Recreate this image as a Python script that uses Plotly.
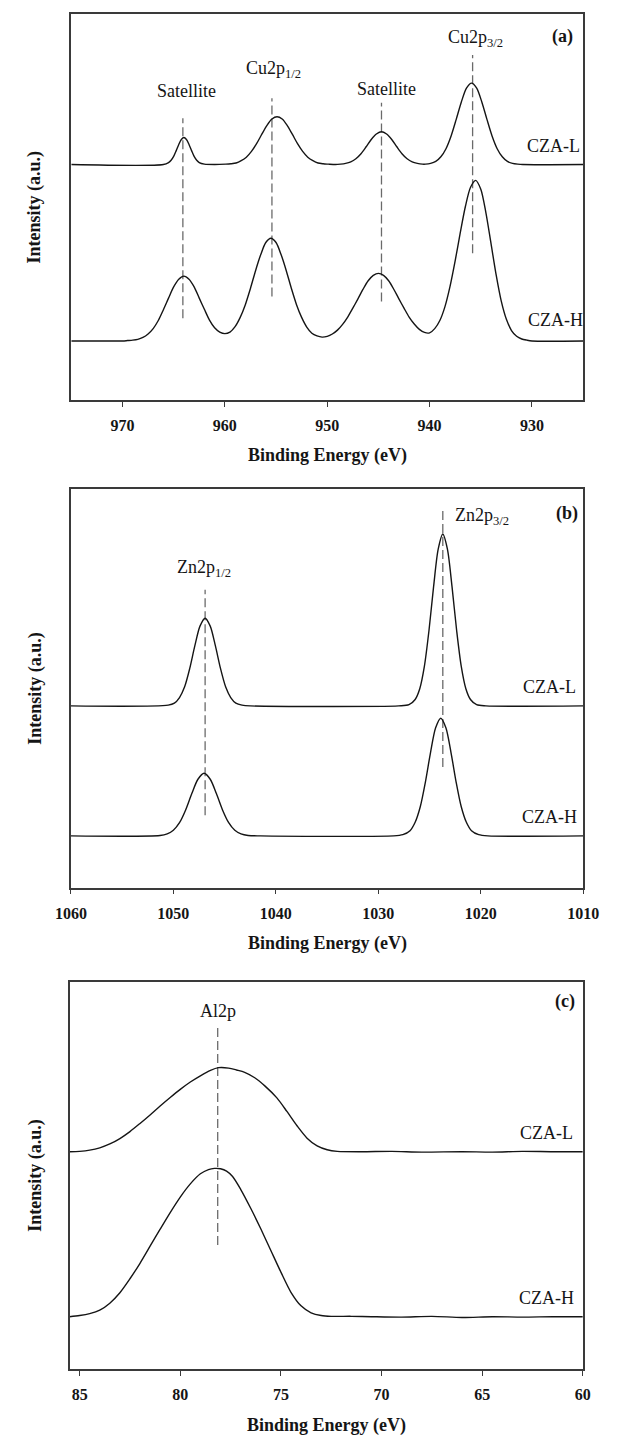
import plotly.graph_objects as go

# ---------------- data (intensity normalised to panel height) ----------------
# Panel (a) Cu 2p
a_L_E = [975, 966, 965.5, 965.25, 965, 964.75, 964.5, 964.25, 964, 963.75, 963.5, 963.25, 963, 962.75, 962.5,
         962, 961, 959.9, 959.4, 958.9, 958.4, 957.9, 957.4, 956.9, 956.4, 955.9, 955.4, 954.9, 954.4,
         953.9, 953.4, 952.9, 952.4, 951.9, 951.4, 950.9, 950.4, 949.9, 949.2, 948.7, 948.2, 947.7, 947.2,
         946.7, 946.2, 945.7, 945.2, 944.7, 944.2, 943.7, 943.2, 942.7, 942.2, 941.7, 941.2, 940.7, 940.4,
         939.9, 939.4, 938.9, 938.4, 937.9, 937.4, 936.9, 936.4, 935.9, 935.4, 934.9, 934.4, 933.9, 933.4,
         932.9, 932.4, 931.9, 931.4, 930.9, 925]
a_L_I = [0.610, 0.610, 0.615, 0.621, 0.631, 0.646, 0.662, 0.675, 0.680, 0.675, 0.662, 0.646, 0.631, 0.621, 0.615,
         0.611, 0.610, 0.611, 0.612, 0.614, 0.620, 0.629, 0.644, 0.664, 0.688, 0.711, 0.728, 0.734, 0.728,
         0.711, 0.688, 0.664, 0.644, 0.629, 0.620, 0.614, 0.612, 0.611, 0.610, 0.611, 0.613, 0.617, 0.625,
         0.638, 0.656, 0.675, 0.689, 0.695, 0.689, 0.675, 0.656, 0.638, 0.625, 0.617, 0.613, 0.611, 0.611,
         0.613, 0.618, 0.630, 0.651, 0.684, 0.727, 0.772, 0.808, 0.821, 0.808, 0.772, 0.727, 0.684, 0.651,
         0.630, 0.618, 0.613, 0.611, 0.610, 0.610]

a_H_E = [975, 970, 969.5, 969, 968.5, 968, 967.5, 967, 966.5, 966, 965.5, 965, 964.5, 964, 963.5, 963, 962.5,
         962, 961.5, 961, 960.5, 960, 959.5, 959, 958.5, 958, 957.5, 957, 956.5, 956, 955.5, 955, 954.5,
         954, 953.5, 953, 952.5, 952, 951.5, 951, 950.5, 950, 949.5, 949, 948.5, 948, 947.5, 947, 946.5,
         946, 945.5, 945, 944.5, 944, 943.5, 943, 942.5, 942, 941.5, 941, 940.5, 940, 939.5, 939, 938.5,
         938, 937.5, 937, 936.5, 936, 935.5, 935, 934.5, 934, 933.5, 933, 932.5, 932, 931.5, 931, 930.5,
         930, 925]
a_H_I = [0.153, 0.153, 0.154, 0.155, 0.157, 0.162, 0.171, 0.185, 0.206, 0.234, 0.264, 0.293, 0.313, 0.321, 0.313,
         0.293, 0.264, 0.235, 0.207, 0.187, 0.176, 0.172, 0.176, 0.190, 0.214, 0.247, 0.289, 0.335, 0.376,
         0.408, 0.419, 0.408, 0.376, 0.335, 0.289, 0.247, 0.214, 0.189, 0.173, 0.166, 0.163, 0.165, 0.171,
         0.181, 0.196, 0.215, 0.238, 0.262, 0.287, 0.309, 0.323, 0.328, 0.323, 0.309, 0.287, 0.262, 0.238,
         0.215, 0.197, 0.183, 0.175, 0.174, 0.185, 0.206, 0.242, 0.295, 0.361, 0.434, 0.502, 0.551, 0.569,
         0.546, 0.485, 0.405, 0.324, 0.256, 0.209, 0.180, 0.165, 0.158, 0.155, 0.153, 0.153]

a_ref_E = [964.1, 955.4, 944.7, 935.8]
a_ref_lo = [0.212, 0.268, 0.255, 0.380]
a_ref_hi = [0.730, 0.782, 0.770, 0.894]
a_lab = ["Satellite", "Cu2p<sub>1/2</sub>", "Satellite", "Cu2p<sub>3/2</sub>"]
a_lab_E = [963.7, 955.2, 944.2, 935.5]
a_lab_I = [0.801, 0.855, 0.807, 0.937]

# Panel (b) Zn 2p
b_L_E = [1060, 1050.5, 1049.9, 1049.4, 1048.9, 1048.4, 1047.9, 1047.4, 1046.9, 1046.4, 1045.9, 1045.4, 1044.9,
         1044.4, 1043.9, 1043.3, 1042.5, 1028, 1027.0, 1026.4, 1025.95, 1025.5, 1025.05, 1024.6, 1024.15,
         1023.7, 1023.25, 1022.8, 1022.35, 1021.9, 1021.45, 1021.0, 1020.4, 1019.5, 1010]
b_L_I = [0.456, 0.458, 0.463, 0.477, 0.504, 0.550, 0.607, 0.656, 0.676, 0.656, 0.607, 0.550, 0.504,
         0.477, 0.463, 0.458, 0.456, 0.456, 0.459, 0.472, 0.499, 0.555, 0.645, 0.755, 0.849,
         0.887, 0.849, 0.755, 0.645, 0.555, 0.499, 0.472, 0.459, 0.456, 0.456]
b_H_E = [1060, 1051.3, 1050.6, 1050.0, 1049.4, 1048.8, 1048.2, 1047.6, 1047.0, 1046.4, 1045.8, 1045.2, 1044.6,
         1044.0, 1043.4, 1042.7, 1041.5, 1028.5, 1027.6, 1026.9, 1026.4, 1025.9, 1025.4, 1024.9, 1024.4,
         1023.9, 1023.4, 1022.9, 1022.4, 1021.9, 1021.4, 1020.9, 1020.2, 1019.3, 1010]
b_H_I = [0.130, 0.131, 0.135, 0.144, 0.163, 0.195, 0.236, 0.272, 0.287, 0.272, 0.236, 0.195, 0.163,
         0.144, 0.135, 0.131, 0.130, 0.130, 0.133, 0.143, 0.164, 0.203, 0.265, 0.339, 0.401,
         0.425, 0.401, 0.339, 0.265, 0.203, 0.164, 0.143, 0.133, 0.130, 0.130]
b_ref_E = [1046.9, 1023.7]
b_ref_lo = [0.182, 0.303]
b_ref_hi = [0.747, 0.952]
b_lab = ["Zn2p<sub>1/2</sub>", "Zn2p<sub>3/2</sub>"]
b_lab_E = [1047.0, 1022.75]
b_lab_I = [0.800, 0.930]
b_lab_anchor = ["center", "left"]

# Panel (c) Al 2p
c_L_E = [85.5, 85.0, 84.5, 84.0, 83.5, 83.0, 82.5, 82.0, 81.5, 81.0, 80.5, 80.0, 79.5, 79.0, 78.5, 78.1,
         77.6, 77.2, 76.8, 76.3, 75.8, 75.2, 74.7, 74.2, 73.7, 73.2, 72.7, 72.2, 71.0, 69.5, 68.0, 66.0,
         64.5, 63.0, 61.5, 60.0]
c_L_I = [0.561, 0.562, 0.565, 0.571, 0.581, 0.595, 0.613, 0.634, 0.656, 0.679, 0.701, 0.722, 0.741, 0.757,
         0.771, 0.778, 0.777, 0.772, 0.766, 0.752, 0.731, 0.700, 0.665, 0.628, 0.596, 0.576, 0.566, 0.562,
         0.561, 0.562, 0.560, 0.561, 0.560, 0.562, 0.561, 0.561]
c_H_E = [85.5, 85.0, 84.5, 84.0, 83.5, 83.0, 82.5, 82.0, 81.5, 81.0, 80.5, 80.0, 79.5, 79.0, 78.6, 78.3,
         78.0, 77.7, 77.4, 77.0, 76.5, 76.0, 75.5, 75.0, 74.5, 74.0, 73.5, 73.0, 72.5, 71.5, 70.5, 69.0,
         67.5, 66.0, 64.5, 63.0, 61.5, 60.0]
c_H_I = [0.135, 0.138, 0.143, 0.152, 0.170, 0.197, 0.233, 0.273, 0.317, 0.361, 0.404, 0.444, 0.478, 0.504,
         0.515, 0.518, 0.517, 0.511, 0.497, 0.464, 0.415, 0.362, 0.306, 0.250, 0.198, 0.163, 0.145, 0.138,
         0.136, 0.136, 0.135, 0.134, 0.136, 0.133, 0.135, 0.134, 0.135, 0.135]
c_ref_E = [78.14]
c_ref_lo = [0.320]
c_ref_hi = [0.884]
c_lab = ["Al2p"]
c_lab_E = [78.14]
c_lab_I = [0.924]
c_lab_anchor = ["center"]

x_ranges = [[975, 925], [1060, 1010], [85.5, 60]]
x_ticks = [[970, 960, 950, 940, 930], [1060, 1050, 1040, 1030, 1020, 1010], [85, 80, 75, 70, 65, 60]]
panel_tags = ["(a)", "(b)", "(c)"]
sample_names = ["CZA-L", "CZA-H"]

# ---------------- layout geometry (pixels in the 617 x 1435 page) ----------------
W, H = 617, 1435
x_px = [(58.3, 598.2), (57.9, 598.2), (56.5, 597.8)]
y_px = [(14.0, 400.0), (489.0, 887.7), (981.7, 1369.0)]
tag_pos = [(927.0, 0.941), (1011.6, 0.939), (60.9, 0.950)]
name_pos = [((927.9, 0.659), (927.75, 0.207)), ((1013.3, 0.504), (1013.3, 0.178)), ((61.8, 0.610), (61.8, 0.184))]

SERIF = "Liberation Serif, Times New Roman, serif"
INK = "#151515"
FRAME = "#3a3a3a"
DASH = "#6a6a6a"

fig = go.Figure()
annotations = []

panels = [
    (a_L_E, a_L_I, a_H_E, a_H_I, a_ref_E, a_ref_lo, a_ref_hi, a_lab, a_lab_E, a_lab_I, ["center"] * 4),
    (b_L_E, b_L_I, b_H_E, b_H_I, b_ref_E, b_ref_lo, b_ref_hi, b_lab, b_lab_E, b_lab_I, b_lab_anchor),
    (c_L_E, c_L_I, c_H_E, c_H_I, c_ref_E, c_ref_lo, c_ref_hi, c_lab, c_lab_E, c_lab_I, c_lab_anchor),
]

for i, (LE, LI, HE, HI, rE, rlo, rhi, labs, labE, labI, anch) in enumerate(panels):
    k = "" if i == 0 else str(i + 1)
    xa, ya = "x" + k, "y" + k
    # reference dashed lines
    for e, lo, hi in zip(rE, rlo, rhi):
        fig.add_trace(go.Scatter(x=[e, e], y=[lo, hi], mode="lines", xaxis=xa, yaxis=ya,
                                 line=dict(color=DASH, width=1.3, dash="9px,4px"),
                                 showlegend=False, hoverinfo="skip"))
    for E, I in ((LE, LI), (HE, HI)):
        fig.add_trace(go.Scatter(x=E, y=I, mode="lines", xaxis=xa, yaxis=ya,
                                 line=dict(color=INK, width=1.4, shape="spline", smoothing=0.8),
                                 showlegend=False))
    for t, e, v, a in zip(labs, labE, labI, anch):
        annotations.append(dict(text=t, x=e, y=v, xref=xa, yref=ya, showarrow=False,
                                xanchor=a, yanchor="middle",
                                font=dict(family=SERIF, size=18, color=INK)))
    annotations.append(dict(text="<b>%s</b>" % panel_tags[i], x=tag_pos[i][0], y=tag_pos[i][1],
                            xref=xa, yref=ya, showarrow=False, xanchor="center", yanchor="middle",
                            font=dict(family=SERIF, size=18, color=INK)))
    for nm, (px, py) in zip(sample_names, name_pos[i]):
        annotations.append(dict(text=nm, x=px, y=py, xref=xa, yref=ya, showarrow=False,
                                xanchor="center", yanchor="middle",
                                font=dict(family=SERIF, size=18, color=INK)))
    # axis titles
    x0, x1 = x_px[i]
    y0, y1 = y_px[i]
    annotations.append(dict(text="<b>Binding Energy (eV)</b>", x=(x0 + x1) / 2 / W, y=1 - (y1 + 56) / H,
                            xref="paper", yref="paper", showarrow=False, xanchor="center", yanchor="middle",
                            font=dict(family=SERIF, size=18, color=INK)))
    annotations.append(dict(text="<b>Intensity (a.u.)</b>", x=20.5 / W, y=1 - (y0 + y1) / 2 / H,
                            xref="paper", yref="paper", showarrow=False, xanchor="center", yanchor="middle",
                            textangle=-90, font=dict(family=SERIF, size=18, color=INK)))

    axis_common = dict(showline=True, linecolor=FRAME, linewidth=1.5, mirror=True,
                       showgrid=False, zeroline=False)
    fig.layout["xaxis" + k] = dict(
        domain=[x0 / W, x1 / W], anchor=ya, range=x_ranges[i], tickmode="array", tickvals=x_ticks[i],
        ticks="outside", ticklen=5, tickwidth=1.3, tickcolor=FRAME, ticklabelstandoff=5,
        tickfont=dict(family=SERIF, size=16, color=INK, weight="bold"), **axis_common)
    fig.layout["yaxis" + k] = dict(
        domain=[1 - y1 / H, 1 - y0 / H], anchor=xa, range=[0, 1], showticklabels=False, ticks="",
        **axis_common)

fig.update_layout(width=W, height=H, margin=dict(l=0, r=0, t=0, b=0),
                  paper_bgcolor="white", plot_bgcolor="white", annotations=annotations,
                  showlegend=False)

fig.write_html("out.html")
